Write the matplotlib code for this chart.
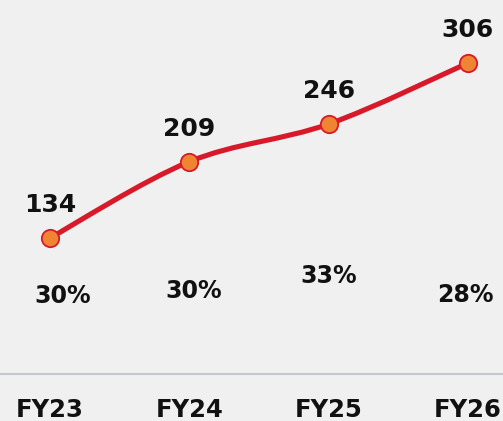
import numpy as np
import matplotlib.pyplot as plt
from matplotlib.path import Path
from matplotlib.patches import PathPatch

# data
years = ["FY23", "FY24", "FY25", "FY26"]
values = [134, 209, 246, 306]
pct_labels = ["30%", "30%", "33%", "28%"]

# layout for percentage labels (baseline y in data units, x nudges)
pct_y = [70, 75, 90, 71]
pct_dx = [0.09, 0.03, 0.0, -0.015]

bg = "#f0f0f0"
red = "#d7192a"
orange = "#ef8433"
ink = "#111111"
font = "DejaVu Sans"

fig = plt.figure(figsize=(5.03, 4.21), dpi=100, facecolor=bg)
ax = fig.add_axes([0, 0, 1, 1], facecolor=bg)

x = np.arange(len(values))
y = np.array(values, dtype=float)

# smooth line (Catmull-Rom -> cubic bezier)
verts = [(x[0], y[0])]
codes = [Path.MOVETO]
for i in range(len(x) - 1):
    p0 = (x[max(i - 1, 0)], y[max(i - 1, 0)])
    p1 = (x[i], y[i])
    p2 = (x[i + 1], y[i + 1])
    p3 = (x[min(i + 2, len(x) - 1)], y[min(i + 2, len(x) - 1)])
    c1 = (p1[0] + (p2[0] - p0[0]) / 6, p1[1] + (p2[1] - p0[1]) / 6)
    c2 = (p2[0] - (p3[0] - p1[0]) / 6, p2[1] - (p3[1] - p1[1]) / 6)
    verts += [c1, c2, p2]
    codes += [Path.CURVE4] * 3
ax.add_patch(PathPatch(Path(verts, codes), fill=False, edgecolor=red,
                       linewidth=3.7, capstyle="round", zorder=2))

ax.plot(x, y, "o", markersize=12.5, markerfacecolor=orange,
        markeredgecolor=red, markeredgewidth=1.3, zorder=3)

for xi, v in zip(x, values):
    ax.text(xi, v + 25.5, str(v), ha="center", va="baseline", fontsize=18,
            fontweight="bold", family=font, color=ink)

for xi, lab, py, dx in zip(x, pct_labels, pct_y, pct_dx):
    ax.text(xi + dx, py, lab, ha="center", va="baseline", fontsize=17,
            fontweight="bold", family=font, color=ink)

ax.axhline(0, color="#c3c7d0", linewidth=1.5, zorder=1)

for xi, lab in zip(x, years):
    ax.text(xi, -42, lab, ha="center", va="baseline", fontsize=17.5,
            fontweight="bold", family=font, color=ink)

ax.set_xlim(-0.359, 3.252)
ax.set_ylim(-46, 368)
ax.axis("off")

fig.savefig("out.png", dpi=100, facecolor=bg)
